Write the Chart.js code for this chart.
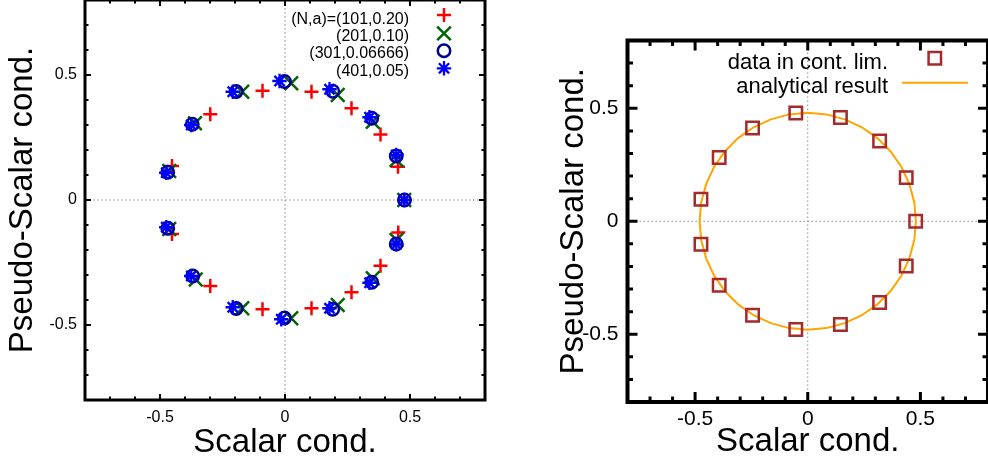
<!DOCTYPE html>
<html><head><meta charset="utf-8">
<script src="https://cdn.jsdelivr.net/npm/chart.js@4/dist/chart.umd.min.js"></script>
<style>
html,body{margin:0;padding:0;background:#fff;overflow:hidden;width:988px;height:463px;}
#c1{position:absolute;left:0;top:0;}
#c2{position:absolute;left:500px;top:0;}
</style></head><body>
<canvas id="c1" width="500" height="463"></canvas>
<canvas id="c2" width="488" height="463"></canvas>
<script>
// ---------- data ----------
const tickValues = [-0.5, 0, 0.5];
const tickLabels = ['-0.5', '0', '0.5'];
const xTitle = 'Scalar cond.';
const yTitle = 'Pseudo-Scalar cond.';

const seriesLabels = ['(N,a)=(101,0.20)', '(201,0.10)', '(301,0.06666)', '(401,0.05)'];
const n101X = [0.478, 0.452, 0.382, 0.266, 0.106, -0.090, -0.299, -0.452, -0.452, -0.299, -0.090, 0.106, 0.266, 0.382, 0.453];
const n101Y = [0.000, 0.133, 0.262, 0.367, 0.433, 0.437, 0.343, 0.136, -0.136, -0.344, -0.437, -0.433, -0.369, -0.263, -0.130];
const n201X = [0.477, 0.446, 0.351, 0.211, 0.025, -0.171, -0.360, -0.463, -0.463, -0.357, -0.171, 0.025, 0.211, 0.351, 0.446];
const n201Y = [0.000, 0.160, 0.313, 0.420, 0.467, 0.433, 0.307, 0.116, -0.116, -0.318, -0.433, -0.473, -0.420, -0.313, -0.160];
const n301X = [0.478, 0.445, 0.347, 0.191, -0.002, -0.195, -0.371, -0.469, -0.469, -0.369, -0.195, -0.002, 0.191, 0.347, 0.445];
const n301Y = [0.000, 0.176, 0.327, 0.435, 0.474, 0.434, 0.303, 0.111, -0.113, -0.304, -0.434, -0.472, -0.437, -0.329, -0.176];
const n401X = [0.477, 0.445, 0.338, 0.178, -0.022, -0.209, -0.375, -0.475, -0.475, -0.375, -0.209, -0.015, 0.178, 0.338, 0.445];
const n401Y = [0.000, 0.180, 0.331, 0.443, 0.476, 0.433, 0.300, 0.109, -0.109, -0.304, -0.429, -0.477, -0.433, -0.331, -0.177];

const rightLabels = ['data in cont. lim.', 'analytical result'];
const contX = [-0.053, 0.145, 0.319, 0.437, 0.479, 0.437, 0.319, 0.145, -0.053, -0.245, -0.393, -0.474, -0.474, -0.393, -0.245];
const contY = [0.479, 0.459, 0.355, 0.193, 0.000, -0.198, -0.360, -0.457, -0.479, -0.416, -0.283, -0.102, 0.097, 0.282, 0.413];
const anaX = [0.480, 0.473, 0.451, 0.416, 0.368, 0.309, 0.240, 0.164, 0.083, 0.000, -0.083, -0.164, -0.240, -0.309, -0.368, -0.416, -0.451, -0.473,
              -0.480, -0.473, -0.451, -0.416, -0.368, -0.309, -0.240, -0.164, -0.083, 0.000, 0.083, 0.164, 0.240, 0.309, 0.368, 0.416, 0.451, 0.473, 0.480];
const anaY = [0.000, 0.083, 0.164, 0.240, 0.309, 0.368, 0.416, 0.451, 0.473, 0.480, 0.473, 0.451, 0.416, 0.368, 0.309, 0.240, 0.164, 0.083,
              0.000, -0.083, -0.164, -0.240, -0.309, -0.368, -0.416, -0.451, -0.473, -0.480, -0.473, -0.451, -0.416, -0.368, -0.309, -0.240, -0.164, -0.083, 0.000];

// ---------- helpers ----------
const FONT = "'Liberation Sans', Arial, sans-serif";
const pts = (xs, ys) => xs.map((x, i) => ({x, y: ys[i]}));
const labelFor = v => { const i = tickValues.findIndex(t => Math.abs(t - v) < 1e-6); return i >= 0 ? tickLabels[i] : ''; };

function drawMarker(ctx, style, x, y, r, color, bw) {
  ctx.save();
  ctx.strokeStyle = color; ctx.lineWidth = bw; ctx.beginPath();
  const d = r * Math.SQRT1_2;
  if (style === 'cross' || style === 'star') { ctx.moveTo(x - r, y); ctx.lineTo(x + r, y); ctx.moveTo(x, y - r); ctx.lineTo(x, y + r); }
  if (style === 'crossRot' || style === 'star') { ctx.moveTo(x - d, y - d); ctx.lineTo(x + d, y + d); ctx.moveTo(x - d, y + d); ctx.lineTo(x + d, y - d); }
  if (style === 'circle') { ctx.arc(x, y, r, 0, Math.PI * 2); }
  if (style === 'rect') { ctx.rect(x - d, y - d, 2 * d, 2 * d); }
  ctx.stroke(); ctx.restore();
}

function framePlugin(cfg) {
  return {
    id: 'frameTicks',
    beforeDatasetsDraw(chart) {
      const {ctx, chartArea: a, scales: {x, y}} = chart;
      ctx.save();
      ctx.strokeStyle = '#8a8a8a'; ctx.lineWidth = 1; ctx.setLineDash([1.5, 2.5]);
      const x0 = x.getPixelForValue(0), y0 = y.getPixelForValue(0);
      ctx.beginPath();
      ctx.moveTo(x0, a.top); ctx.lineTo(x0, a.bottom);
      ctx.moveTo(a.left, y0); ctx.lineTo(a.right, y0);
      ctx.stroke(); ctx.restore();
    },
    afterDatasetsDraw(chart) {
      const {ctx, chartArea: a, scales: {x, y}} = chart;
      ctx.save();
      ctx.strokeStyle = '#000'; ctx.lineCap = 'butt';
      ctx.lineWidth = cfg.tickWidth;
      ctx.beginPath();
      x.ticks.forEach(t => {
        const v = t.value; if (Math.abs(Math.abs(v) - 0.8) < 1e-6) return;
        const major = Math.abs(v * 2 - Math.round(v * 2)) < 1e-6;
        const len = major ? cfg.major : cfg.minor;
        const p = x.getPixelForValue(v);
        ctx.moveTo(p, a.bottom); ctx.lineTo(p, a.bottom - len);
        ctx.moveTo(p, a.top); ctx.lineTo(p, a.top + len);
      });
      y.ticks.forEach(t => {
        const v = t.value; if (Math.abs(Math.abs(v) - 0.8) < 1e-6) return;
        const major = Math.abs(v * 2 - Math.round(v * 2)) < 1e-6;
        const len = major ? cfg.major : cfg.minor;
        const p = y.getPixelForValue(v);
        ctx.moveTo(a.left, p); ctx.lineTo(a.left + len, p);
        ctx.moveTo(a.right, p); ctx.lineTo(a.right - len, p);
      });
      ctx.stroke();
      ctx.lineWidth = cfg.frameWidth;
      ctx.strokeRect(a.left, a.top, a.right - a.left, a.bottom - a.top);
      ctx.restore();
      if (cfg.legend) cfg.legend(chart);
    }
  };
}

function axis(opts) {
  return {
    type: 'linear', position: opts.position, min: -0.8, max: 0.8,
    grid: {display: false, drawTicks: false}, border: {display: false},
    ticks: {stepSize: 0.1, autoSkip: false, maxRotation: 0, minRotation: 0, padding: opts.tickPad,
            color: '#000', font: {family: FONT, size: opts.tickSize}, callback: v => labelFor(v)},
    title: {display: true, text: opts.title, color: '#000', font: {family: FONT, size: opts.titleSize}, padding: opts.titlePad},
    afterFit: s => {
      if (opts.position === 'left') s.width = opts.size; else s.height = opts.size;
      s.paddingTop = 0; s.paddingBottom = 0; s.paddingLeft = 0; s.paddingRight = 0;
    }
  };
}

// ---------- left chart ----------
const leftStyles = [
  {style: 'cross', color: '#ff0000', r: 7, bw: 2.5},
  {style: 'crossRot', color: '#006400', r: 9.6, bw: 2.5},
  {style: 'circle', color: '#000090', r: 6.2, bw: 2.5},
  {style: 'star', color: '#0000ff', r: 7.2, bw: 2.3}
];
const leftSeries = [[n101X, n101Y], [n201X, n201Y], [n301X, n301Y], [n401X, n401Y]];

new Chart(document.getElementById('c1'), {
  type: 'scatter',
  data: {
    datasets: leftSeries.map((s, i) => ({
      label: seriesLabels[i], data: pts(s[0], s[1]), order: 3 - i,
      pointStyle: leftStyles[i].style, pointRadius: leftStyles[i].r, pointBorderWidth: leftStyles[i].bw,
      borderColor: leftStyles[i].color, backgroundColor: 'rgba(0,0,0,0)', pointHoverRadius: leftStyles[i].r
    }))
  },
  options: {
    responsive: false, animation: false, devicePixelRatio: 1, events: [],
    layout: {autoPadding: false, padding: {left: 0, top: 0, right: 15, bottom: 0}},
    plugins: {legend: {display: false}, tooltip: {enabled: false}},
    scales: {
      x: axis({position: 'bottom', size: 63, tickPad: 7.5, tickSize: 16, title: xTitle, titleSize: 33, titlePad: {top: 0, bottom: 0.5}}),
      y: axis({position: 'left', size: 85, tickPad: 8, tickSize: 16, title: yTitle, titleSize: 33, titlePad: {top: 2.7, bottom: 0}})
    }
  },
  plugins: [framePlugin({major: 6, minor: 3.5, tickWidth: 2, frameWidth: 3,
    legend: chart => {
      const ctx = chart.ctx;
      const base = [23.5, 41, 58.3, 75.5], my = [15, 33.3, 50.7, 68.3];
      ctx.save(); ctx.fillStyle = '#000'; ctx.font = `16px ${FONT}`; ctx.textAlign = 'right'; ctx.textBaseline = 'alphabetic';
      seriesLabels.forEach((t, i) => {
        ctx.fillText(t, 409, base[i]);
        drawMarker(ctx, leftStyles[i].style, 444, my[i], leftStyles[i].r, leftStyles[i].color, leftStyles[i].bw);
      });
      ctx.restore();
    }})]
});

// ---------- right chart ----------
new Chart(document.getElementById('c2'), {
  type: 'scatter',
  data: {
    datasets: [
      {label: rightLabels[0], data: pts(contX, contY), order: 0, pointStyle: 'rect', pointRadius: 8.8, pointBorderWidth: 2.5,
       borderColor: '#a52a2a', backgroundColor: 'rgba(0,0,0,0)', pointHoverRadius: 8.8},
      {label: rightLabels[1], data: pts(anaX, anaY), order: 1, showLine: true, pointRadius: 0, borderColor: '#ffa500', borderWidth: 2,
       backgroundColor: 'rgba(0,0,0,0)', fill: false, tension: 0}
    ]
  },
  options: {
    responsive: false, animation: false, devicePixelRatio: 1, events: [],
    layout: {autoPadding: false, padding: {left: 0, top: 40.5, right: 0, bottom: 0}},
    plugins: {legend: {display: false}, tooltip: {enabled: false}},
    scales: {
      x: axis({position: 'bottom', size: 61, tickPad: 5, tickSize: 21, title: xTitle, titleSize: 33, titlePad: {top: 0, bottom: 1}}),
      y: axis({position: 'left', size: 127.5, tickPad: 9, tickSize: 21, title: yTitle, titleSize: 33, titlePad: {top: 54.2, bottom: 0}})
    }
  },
  plugins: [framePlugin({major: 10, minor: 5.5, tickWidth: 3, frameWidth: 4,
    legend: chart => {
      const ctx = chart.ctx;
      ctx.save(); ctx.fillStyle = '#000'; ctx.font = `22px ${FONT}`; ctx.textAlign = 'right'; ctx.textBaseline = 'alphabetic';
      ctx.fillText(rightLabels[0], 388, 69);
      ctx.fillText(rightLabels[1], 388, 92.5);
      drawMarker(ctx, 'rect', 434.8, 58.3, 8.8, '#a52a2a', 2.5);
      ctx.strokeStyle = '#ffa500'; ctx.lineWidth = 2; ctx.beginPath(); ctx.moveTo(402, 82.7); ctx.lineTo(468, 82.7); ctx.stroke();
      ctx.restore();
    }})]
});
</script>
</body></html>
